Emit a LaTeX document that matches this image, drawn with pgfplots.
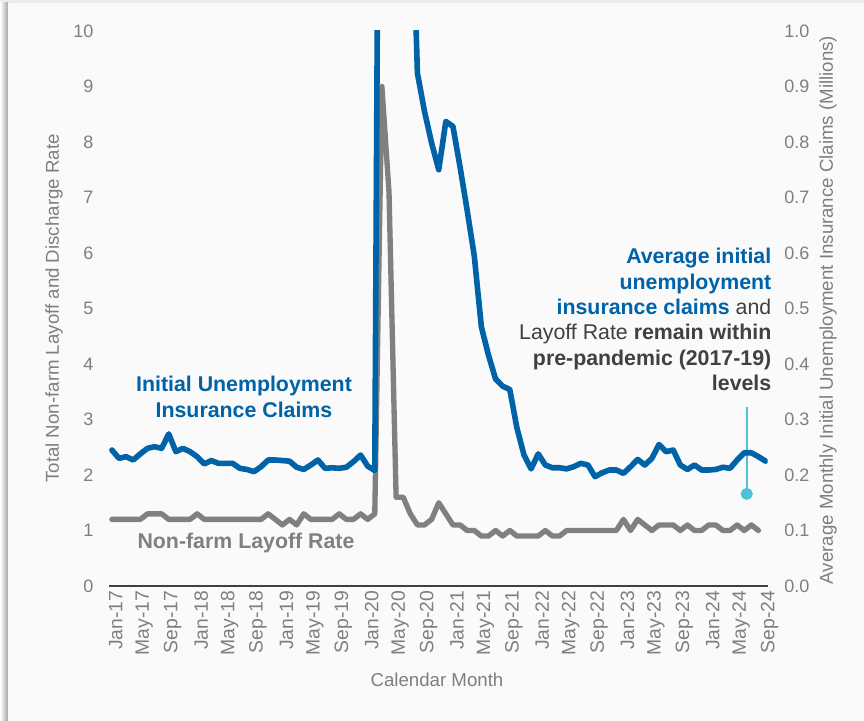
\documentclass[border=0pt]{standalone}
\usepackage{fontspec}
\setmainfont{Liberation Sans}
\usepackage{pgfplots}
\usepackage{pgfplotstable}
\pgfplotsset{compat=1.18}
\definecolor{claimblue}{HTML}{0063A8}
\definecolor{layoffgray}{HTML}{808080}
\definecolor{tickgray}{HTML}{7F7F7F}
\definecolor{darktext}{HTML}{404040}
\definecolor{axisdark}{HTML}{404040}
\definecolor{callout}{HTML}{4FC0D8}
\definecolor{panel}{HTML}{FAFAFA}
\definecolor{topstrip}{HTML}{E8EDED}

\pgfplotstableread{
m v
0 1.2
1 1.2
2 1.2
3 1.2
4 1.2
5 1.3
6 1.3
7 1.3
8 1.2
9 1.2
10 1.2
11 1.2
12 1.3
13 1.2
14 1.2
15 1.2
16 1.2
17 1.2
18 1.2
19 1.2
20 1.2
21 1.2
22 1.3
23 1.2
24 1.1
25 1.2
26 1.1
27 1.3
28 1.2
29 1.2
30 1.2
31 1.2
32 1.3
33 1.2
34 1.2
35 1.3
36 1.2
37 1.3
38 9.0
39 7.1
40 1.6
41 1.6
42 1.3
43 1.1
44 1.1
45 1.2
46 1.5
47 1.3
48 1.1
49 1.1
50 1.0
51 1.0
52 0.9
53 0.9
54 1.0
55 0.9
56 1.0
57 0.9
58 0.9
59 0.9
60 0.9
61 1.0
62 0.9
63 0.9
64 1.0
65 1.0
66 1.0
67 1.0
68 1.0
69 1.0
70 1.0
71 1.0
72 1.2
73 1.0
74 1.2
75 1.1
76 1.0
77 1.1
78 1.1
79 1.1
80 1.0
81 1.1
82 1.0
83 1.0
84 1.1
85 1.1
86 1.0
87 1.0
88 1.1
89 1.0
90 1.1
91 1.0
}\layoff

\pgfplotstableread{
m v
0 0.245
1 0.230
2 0.233
3 0.227
4 0.238
5 0.248
6 0.251
7 0.248
8 0.274
9 0.242
10 0.248
11 0.242
12 0.233
13 0.220
14 0.226
15 0.221
16 0.221
17 0.221
18 0.212
19 0.210
20 0.206
21 0.215
22 0.227
23 0.227
24 0.226
25 0.225
26 0.214
27 0.210
28 0.218
29 0.227
30 0.212
31 0.213
32 0.212
33 0.214
34 0.224
35 0.236
36 0.216
37 0.208
38 2.5
39 4.9
40 2.7
41 1.6
42 1.35
43 0.924
44 0.855
45 0.798
46 0.750
47 0.837
48 0.828
49 0.755
50 0.677
51 0.595
52 0.467
53 0.416
54 0.373
55 0.360
56 0.354
57 0.285
58 0.236
59 0.211
60 0.238
61 0.218
62 0.213
63 0.213
64 0.211
65 0.215
66 0.221
67 0.218
68 0.197
69 0.204
70 0.209
71 0.209
72 0.203
73 0.215
74 0.228
75 0.218
76 0.230
77 0.255
78 0.242
79 0.245
80 0.218
81 0.210
82 0.218
83 0.209
84 0.209
85 0.210
86 0.214
87 0.212
88 0.227
89 0.240
90 0.240
91 0.233
92 0.225
}\claims

\begin{document}
\begin{tikzpicture}
\useasboundingbox (0,0) rectangle (648pt,540.75pt);
\fill[white] (0,0) rectangle (648pt,540.75pt);
\fill[topstrip] (0,538.5pt) rectangle (648pt,540.75pt);
\shade[left color=white, right color=black!35] (0,0) rectangle (6pt,538.5pt);
\fill[panel] (6pt,0) rectangle (648pt,538.5pt);

\pgfplotsset{
  common/.style={
    at={(81.525pt,101.25pt)}, anchor=south west,
    width=494.25pt, height=416.25pt, scale only axis,
    xmin=-0.45, xmax=92.3,
    major tick length=0pt,
    tick style={draw=none},
    tick label style={font=\fontsize{13.5}{16}\selectfont, text=tickgray},
    /pgf/number format/assume math mode=true,
  }
}

\begin{axis}[common,
  ymin=0, ymax=10,
  axis x line*=bottom, axis y line*=left,
  x axis line style={-, draw=axisdark, line width=2pt},
  y axis line style={draw=none},
  ytick={0,1,...,10},
  yticklabel style={xshift=-8pt},
  xtick={0,4,...,92},
  xticklabels={Jan-17,May-17,Sep-17,Jan-18,May-18,Sep-18,Jan-19,May-19,Sep-19,Jan-20,May-20,Sep-20,Jan-21,May-21,Sep-21,Jan-22,May-22,Sep-22,Jan-23,May-23,Sep-23,Jan-24,May-24,Sep-24},
  xticklabel style={rotate=90, anchor=east, yshift=-3pt, font=\fontsize{14.5}{16}\selectfont},
]
\addplot[layoffgray, line width=4pt, line join=round, line cap=round] table[x=m,y=v]{\layoff};
\addplot[callout, line width=1.5pt, mark=*, mark size=3.75pt, mark indices={2}, mark options={fill=callout, draw=callout}] coordinates {(89.35,3.23) (89.35,1.66)};
\end{axis}

\begin{axis}[common,
  ymin=0, ymax=1,
  axis x line=none, axis y line*=right,
  y axis line style={draw=none},
  ytick={0,0.1,...,1.0},
  yticklabel style={xshift=9pt, /pgf/number format/.cd, fixed, fixed zerofill, precision=1},
]
\addplot[claimblue, line width=4.2pt, line join=round, line cap=round] table[x=m,y=v]{\claims};
\end{axis}

% axis titles
\node[rotate=90, text=tickgray, font=\fontsize{14}{16}\selectfont] at (40.5pt,309.4pt) {Total Non-farm Layoff and Discharge Rate};
\node[rotate=90, text=tickgray, font=\fontsize{14}{16}\selectfont] at (621pt,308.25pt) {Average Monthly Initial Unemployment Insurance Claims (Millions)};
\node[text=tickgray, font=\fontsize{14}{16}\selectfont] at (327.75pt,30.75pt) {Calendar Month};

% annotations
\node[align=center, text=claimblue, font=\fontsize{16}{19.5}\selectfont\bfseries] at (183pt,243pt) {Initial Unemployment\\Insurance Claims};
\node[text=layoffgray, font=\fontsize{16}{19.5}\selectfont\bfseries] at (184.5pt,133.5pt) {Non-farm Layoff Rate};
\node[align=right, anchor=east, text=darktext, font=\fontsize{16}{19}\selectfont] at (582pt,301.1pt)
 {{\bfseries\color{claimblue}Average initial}\\
  {\bfseries\color{claimblue}unemployment}\\
  {\bfseries\color{claimblue}insurance claims} and\\
  Layoff Rate {\bfseries remain within}\\
  {\bfseries pre-pandemic (2017-19)}\\
  {\bfseries levels}};
\end{tikzpicture}
\end{document}
